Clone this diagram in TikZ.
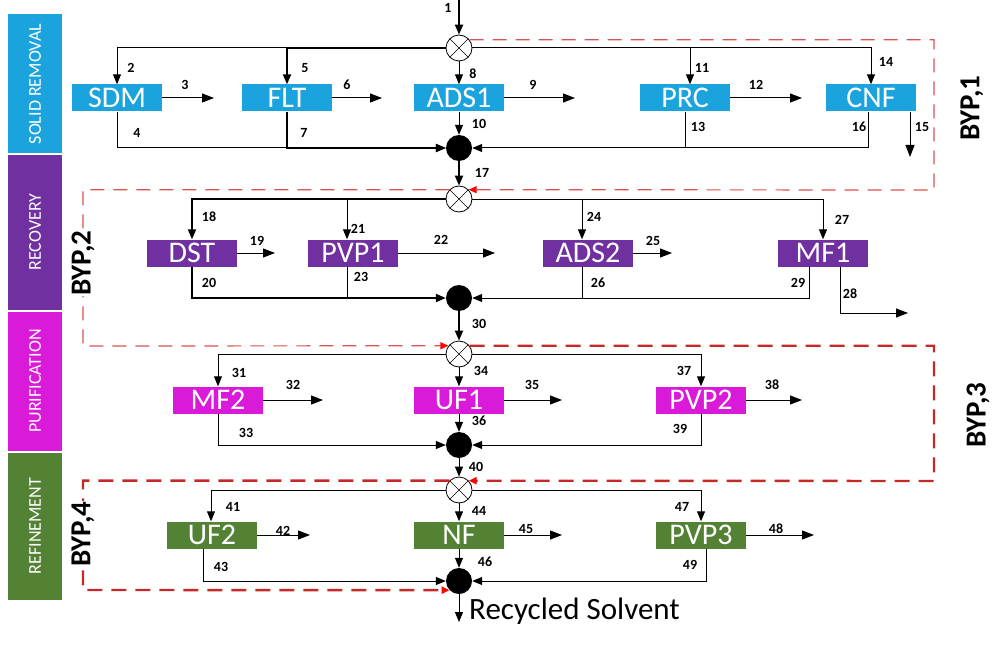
\documentclass[tikz,border=0pt]{standalone}
\usepackage{fontspec}
\setmainfont{Carlito}
\usetikzlibrary{arrows.meta}
\definecolor{cyanb}{HTML}{1BA3DE}
\definecolor{purpb}{HTML}{7030A0}
\definecolor{magb}{HTML}{D91AD9}
\definecolor{greenb}{HTML}{548235}
\definecolor{bypred}{HTML}{C62828}
\definecolor{bypred2}{HTML}{D9534F}
\begin{document}
\begin{tikzpicture}[x=1pt,y=-1pt,
  box/.style={rectangle, minimum width=90pt, minimum height=27pt, inner sep=0pt, text=white, font=\fontsize{30}{30}\selectfont},
  mixer/.style={circle, draw, fill=white, minimum size=26pt, inner sep=0pt, line width=0.8pt,
    path picture={\draw[line width=0.6pt] (path picture bounding box.south west) -- (path picture bounding box.north east) (path picture bounding box.north west) -- (path picture bounding box.south east);}},
  coll/.style={circle, fill=black, minimum size=26pt, inner sep=0pt},
  num/.style={font=\bfseries\fontsize{14}{14}\selectfont, inner sep=0pt},
  ln/.style={line width=1pt},
  tk/.style={line width=2pt},
  arr/.style={-{Triangle[length=10pt,width=8pt]}},
  sarr/.style={-{Triangle[length=12pt,width=9pt]}},
  byp/.style={draw=bypred2, line width=1.2pt, dash pattern=on 14pt off 9pt, -{Triangle[length=8pt,width=7pt,color=red]}},
  bypt/.style={draw=bypred, line width=2.4pt, dash pattern=on 15pt off 9pt, -{Triangle[length=8pt,width=7pt,color=red]}},
  bar/.style={rectangle, inner sep=0pt, minimum width=54pt},
  bartext/.style={rotate=90, text=white, font=\fontsize{18}{18}\selectfont, inner sep=0pt},
  byplab/.style={rotate=90, fill=white, inner sep=1pt, font=\bfseries\fontsize{29}{29}\selectfont}
]
\useasboundingbox (0,0) rectangle (1008,647);

% side bars
\node[bar, fill=cyanb, minimum height=139pt] (bar1) at (35,83.5) {};
\node[bar, fill=purpb, minimum height=155pt] (bar2) at (35,232.5) {};
\node[bar, fill=magb, minimum height=139pt] (bar3) at (35,381.5) {};
\node[bar, fill=greenb, minimum height=147pt] (bar4) at (35,526.5) {};
\node[bartext] (t1) at (35,84) {SOLID REMOVAL};
\node[bartext] (t2) at (35,232) {RECOVERY};
\node[bartext] (t3) at (35,381) {PURIFICATION};
\node[bartext] (t4) at (35,526) {REFINEMENT};

% mixers and collectors
\node[mixer] (m1) at (459,48) {};
\node[mixer] (m2) at (459,199) {};
\node[mixer] (m3) at (459,354) {};
\node[mixer] (m4) at (459,490) {};
\node[coll] (c1) at (459,148) {};
\node[coll] (c2) at (459,298) {};
\node[coll] (c3) at (459,445) {};
\node[coll] (c4) at (459,581) {};

% boxes
\node[box, fill=cyanb] (sdm) at (117,98) {SDM};
\node[box, fill=cyanb] (flt) at (287,98) {FLT};
\node[box, fill=cyanb] (ads1) at (459,98) {ADS1};
\node[box, fill=cyanb] (prc) at (685,98) {PRC};
\node[box, fill=cyanb] (cnf) at (871,98) {CNF};
\node[box, fill=purpb] (dst) at (192,253) {DST};
\node[box, fill=purpb] (pvp1) at (353,253) {PVP1};
\node[box, fill=purpb] (ads2) at (588,253) {ADS2};
\node[box, fill=purpb] (mf1) at (823,253) {MF1};
\node[box, fill=magb] (mf2) at (218,400) {MF2};
\node[box, fill=magb] (uf1) at (459,400) {UF1};
\node[box, fill=magb] (pvp2) at (701,400) {PVP2};
\node[box, fill=greenb] (uf2) at (212,535) {UF2};
\node[box, fill=greenb] (nf) at (459,535) {NF};
\node[box, fill=greenb] (pvp3) at (701,535) {PVP3};

% free ends
\coordinate (in1) at (459,0);
\coordinate (o3) at (214,98);
\coordinate (o6) at (382,98);
\coordinate (o9) at (575,98);
\coordinate (o12) at (802,98);
\coordinate (o15) at (910,157);
\coordinate (o19) at (275,253);
\coordinate (o22) at (495,253);
\coordinate (o25) at (672,253);
\coordinate (o28) at (908,313);
\coordinate (o32) at (323,400);
\coordinate (o35) at (562,400);
\coordinate (o38) at (802,400);
\coordinate (o42) at (310,535);
\coordinate (o45) at (562,535);
\coordinate (o48) at (814,535);
\coordinate (out) at (459,622);
\coordinate (b1) at (934,190);
\coordinate (b2) at (83,346);
\coordinate (b3) at (934,481);
\coordinate (b4) at (83,590);

% bypass lines
\draw[byp] (m1.38) -| (b1) -- (m2.44);
\draw[byp] (m2.136) -| (b2) -- (m3.142);
\draw[bypt] (m3.38) -| (b3) -- (m4.44);
\draw[bypt] (m4.136) -| (b4) -- (c4.224);

% row 1
\draw[tk, arr] (in1) -- (m1.north);
\draw[ln, arr] (flt.north |- m1.west) -| (sdm.north);
\draw[tk, arr] (m1.west) -| (flt.north);
\draw[ln, arr] (m1.south) -- (ads1.north);
\draw[ln, arr] (m1.east) -| ([xshift=5pt]prc.north);
\draw[ln, arr] ([xshift=5pt]prc.north |- m1.east) -| (cnf.north);
\draw[ln, sarr] (sdm.east) -- (o3);
\draw[ln, sarr] (flt.east) -- (o6);
\draw[ln, sarr] (ads1.east) -- (o9);
\draw[ln, sarr] (prc.east) -- (o12);
\draw[ln, sarr] (o15 |- cnf.south) -- (o15);
\draw[ln, arr] (sdm.south) |- (c1.west);
\draw[tk, arr] (flt.south) |- (c1.west);
\draw[ln, arr] (ads1.south) -- (c1.north);
\draw[ln] (prc.south) -- (prc.south |- c1.east);
\draw[ln, arr] ([xshift=-3pt]cnf.south) |- (c1.east);
\draw[tk, arr] (c1.south) -- (m2.north);

% row 2
\draw[tk, arr] (m2.west) -| (dst.north);
\draw[ln, arr] ([xshift=-6pt]pvp1.north |- m2.west) -- ([xshift=-6pt]pvp1.north);
\draw[ln, arr] (m2.east) -| (mf1.north);
\draw[ln, arr] ([xshift=-6pt]ads2.north |- m2.east) -- ([xshift=-6pt]ads2.north);
\draw[ln, sarr] (dst.east) -- (o19);
\draw[ln, sarr] (pvp1.east) -- (o22);
\draw[ln, sarr] (ads2.east) -- (o25);
\draw[ln, sarr] ([xshift=17pt]mf1.south) |- (o28);
\draw[tk, arr] (dst.south) |- (c2.west);
\draw[ln] ([xshift=-6pt]pvp1.south) -- ([xshift=-6pt]pvp1.south |- c2.west);
\draw[ln] ([xshift=-6pt]ads2.south) -- ([xshift=-6pt]ads2.south |- c2.east);
\draw[ln, arr] ([xshift=-14pt]mf1.south) |- (c2.east);
\draw[tk, arr] (c2.south) -- (m3.north);

% row 3
\draw[ln, arr] (m3.west) -| (mf2.north);
\draw[ln, arr] (m3.south) -- (uf1.north);
\draw[ln, arr] (m3.east) -| (pvp2.north);
\draw[ln, sarr] (mf2.east) -- (o32);
\draw[ln, sarr] (uf1.east) -- (o35);
\draw[ln, sarr] (pvp2.east) -- (o38);
\draw[ln, arr] (mf2.south) |- (c3.west);
\draw[ln, arr] (uf1.south) -- (c3.north);
\draw[ln, arr] (pvp2.south) |- (c3.east);
\draw[ln, arr] (c3.south) -- (m4.north);

% row 4
\draw[ln, arr] (m4.west) -| ([xshift=-1pt]uf2.north);
\draw[ln, arr] (m4.south) -- (nf.north);
\draw[ln, arr] (m4.east) -| (pvp3.north);
\draw[ln, sarr] (uf2.east) -- (o42);
\draw[ln, sarr] (nf.east) -- (o45);
\draw[ln, sarr] (pvp3.east) -- (o48);
\draw[ln, arr] ([xshift=-9pt]uf2.south) |- (c4.west);
\draw[ln, arr] (nf.south) -- (c4.north);
\draw[ln, arr] ([xshift=5pt]pvp3.south) |- (c4.east);
\draw[ln, arr] (c4.south) -- (out);
\node[anchor=west, inner sep=0pt, font=\fontsize{31}{31}\selectfont] (rs) at (469,611) {Recycled Solvent};

% bypass labels
\node[byplab] (bl1) at (972,108) {BYP,1};
\node[byplab] (bl2) at (83,263) {BYP,2};
\node[byplab] (bl3) at (978,415) {BYP,3};
\node[byplab] (bl4) at (83,534) {BYP,4};

% stream numbers
\node[num] (n1) at (448,8) {1};
\node[num] (n2) at (131,68) {2};
\node[num] (n3) at (185,85) {3};
\node[num] (n4) at (137,133) {4};
\node[num] (n5) at (305,68) {5};
\node[num] (n6) at (347,85) {6};
\node[num] (n7) at (304,133) {7};
\node[num] (n8) at (473,74) {8};
\node[num] (n9) at (533,85) {9};
\node[num] (n10) at (479,124) {10};
\node[num] (n11) at (702,68) {11};
\node[num] (n12) at (756,85) {12};
\node[num] (n13) at (698,127) {13};
\node[num] (n14) at (886,62) {14};
\node[num] (n15) at (922,127) {15};
\node[num] (n16) at (859,127) {16};
\node[num] (n17) at (482,173) {17};
\node[num] (n18) at (209,217) {18};
\node[num] (n19) at (257,241) {19};
\node[num] (n20) at (209,283) {20};
\node[num] (n21) at (358,229) {21};
\node[num] (n22) at (441,240) {22};
\node[num] (n23) at (361,277) {23};
\node[num] (n24) at (594,217) {24};
\node[num] (n25) at (653,241) {25};
\node[num] (n26) at (598,283) {26};
\node[num] (n27) at (842,220) {27};
\node[num] (n28) at (850,294) {28};
\node[num] (n29) at (798,283) {29};
\node[num] (n30) at (479,324) {30};
\node[num] (n31) at (239,373) {31};
\node[num] (n32) at (293,385) {32};
\node[num] (n33) at (246,433) {33};
\node[num] (n34) at (481,371) {34};
\node[num] (n35) at (532,385) {35};
\node[num] (n36) at (479,421) {36};
\node[num] (n37) at (684,371) {37};
\node[num] (n38) at (772,385) {38};
\node[num] (n39) at (680,429) {39};
\node[num] (n40) at (476,467) {40};
\node[num] (n41) at (233,507) {41};
\node[num] (n42) at (283,531) {42};
\node[num] (n43) at (221,567) {43};
\node[num] (n44) at (479,511) {44};
\node[num] (n45) at (526,529) {45};
\node[num] (n46) at (485,562) {46};
\node[num] (n47) at (682,507) {47};
\node[num] (n48) at (776,529) {48};
\node[num] (n49) at (690,565) {49};
\end{tikzpicture}
\end{document}
